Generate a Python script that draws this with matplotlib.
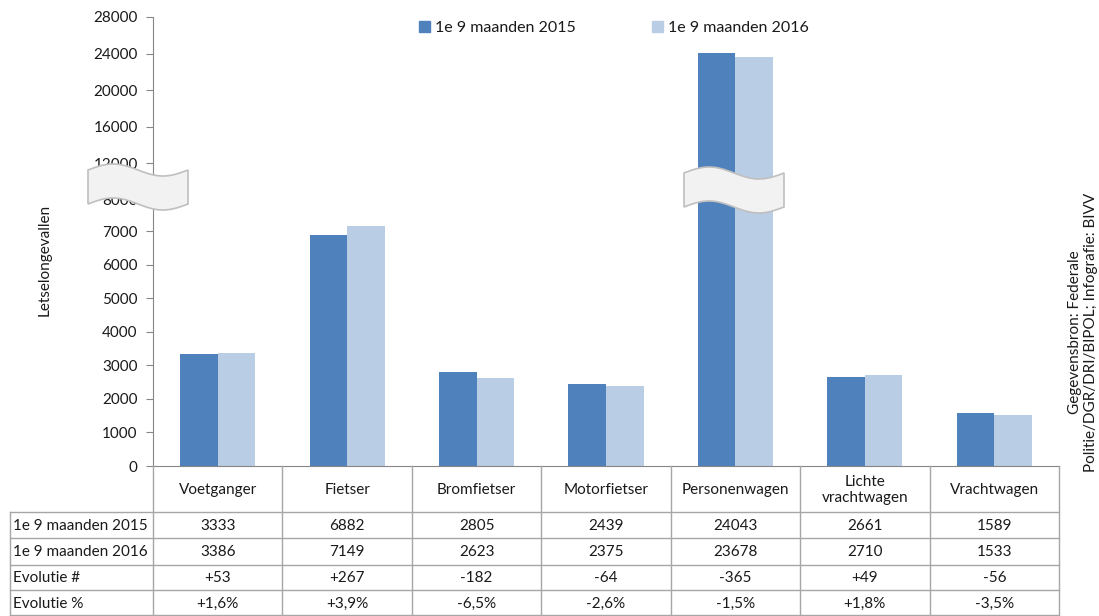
import numpy as np
import matplotlib
matplotlib.use("Agg")
import matplotlib.pyplot as plt
from matplotlib.path import Path
from matplotlib.patches import PathPatch, Patch

plt.rcParams['font.family'] = ['Lato', 'DejaVu Sans']

categories = ["Voetganger", "Fietser", "Bromfietser", "Motorfietser",
              "Personenwagen", "Lichte\nvrachtwagen", "Vrachtwagen"]
series_names = ["1e 9 maanden 2015", "1e 9 maanden 2016"]
v2015 = [3333, 6882, 2805, 2439, 24043, 2661, 1589]
v2016 = [3386, 7149, 2623, 2375, 23678, 2710, 1533]
yticks = [0, 1000, 2000, 3000, 4000, 5000, 6000, 7000, 8000,
          12000, 16000, 20000, 24000, 28000]
row_labels = ["1e 9 maanden 2015", "1e 9 maanden 2016", "Evolutie #", "Evolutie %"]
ylabel = "Letselongevallen"
source = "Gegevensbron: Federale\nPolitie/DGR/DRI/BIPOL; Infografie: BIVV"

c15 = "#4F81BD"
c16 = "#B9CDE5"
gray = "#A6A6A6"
txt = "#1a1a1a"
FS = 11

W, H = 1099, 616
fig = plt.figure(figsize=(W / 100, H / 100), dpi=100)

# piecewise-linear (broken) y scale
BRK = 7918.0
K = 0.273


def fwd(v):
    v = np.asarray(v, dtype=float)
    return np.where(v <= BRK, v, BRK + (v - BRK) * K)


def inv(u):
    u = np.asarray(u, dtype=float)
    return np.where(u <= BRK, u, BRK + (u - BRK) / K)


L, R, B, T = 153, 1059, 466, 17
ax = fig.add_axes([L / W, 1 - B / H, (R - L) / W, (B - T) / H])
ax.set_yscale('function', functions=(fwd, inv))
ax.set_ylim(0, 28000)
ax.set_xlim(-0.5, len(categories) - 0.5)

x = np.arange(len(categories))
bw = 0.29
ax.bar(x - bw / 2, v2015, bw, color=c15, label=series_names[0], zorder=2)
ax.bar(x + bw / 2, v2016, bw, color=c16, label=series_names[1], zorder=2)

ax.set_yticks(yticks)
ax.set_yticklabels([str(t) for t in yticks], fontsize=FS, color=txt)
ax.set_xticks([])
ax.tick_params(axis='y', length=5, color="#868686", pad=6)
for s in ['top', 'right']:
    ax.spines[s].set_visible(False)
for s in ['left', 'bottom']:
    ax.spines[s].set_color("#868686")

fig.text(45 / W, 1 - 260 / H, ylabel, rotation=90, ha='center', va='center',
         fontsize=FS, color=txt)
fig.text(1083 / W, 1 - 332 / H, source, rotation=90, ha='center', va='center',
         fontsize=FS, color=txt, multialignment='center', linespacing=1.2)

leg = fig.legend(handles=[Patch(color=c15), Patch(color=c16)], labels=series_names,
                 loc='center', bbox_to_anchor=(614 / W, 1 - 28 / H), ncol=2,
                 frameon=False, fontsize=11.5, handlelength=0.7, handleheight=0.7,
                 handletextpad=0.3, columnspacing=4.8)
for t in leg.get_texts():
    t.set_color(txt)

# overlay in pixel coordinates for table and break marks
ov = fig.add_axes([0, 0, 1, 1], zorder=5)
ov.set_xlim(0, W)
ov.set_ylim(H, 0)
ov.axis('off')
ov.patch.set_visible(False)

colw = (R - L) / len(categories)
col_edges = [L + i * colw for i in range(len(categories) + 1)]
rows_y = [B, 512, 538, 565, 590, 615]
lab_left = 10

for yy in rows_y[1:]:
    ov.plot([lab_left, R], [yy, yy], color=gray, lw=1)
for i, xe in enumerate(col_edges):
    ov.plot([xe, xe], [B, rows_y[-1]], color=gray, lw=1)
ov.plot([lab_left, lab_left], [rows_y[1], rows_y[-1]], color=gray, lw=1)

evo_n = [b - a for a, b in zip(v2015, v2016)]
evo_p = [100.0 * (b - a) / a for a, b in zip(v2015, v2016)]
rows = [[str(v) for v in v2015],
        [str(v) for v in v2016],
        [f"{n:+d}" for n in evo_n],
        [f"{p:+.1f}%".replace('.', ',') for p in evo_p]]

for i, c in enumerate(categories):
    cx = (col_edges[i] + col_edges[i + 1]) / 2
    ov.text(cx, (rows_y[0] + rows_y[1]) / 2 + 1, c, ha='center', va='center',
            fontsize=FS, color=txt, linespacing=1.1)
    for r in range(4):
        cy = (rows_y[r + 1] + rows_y[r + 2]) / 2 + 1
        ov.text(cx, cy, rows[r][i], ha='center', va='center', fontsize=FS, color=txt)
for r in range(4):
    cy = (rows_y[r + 1] + rows_y[r + 2]) / 2 + 1
    ov.text(lab_left + 3, cy, row_labels[r], ha='left', va='center', fontsize=FS, color=txt)


def banner(x0, y0, w, h, amp):
    t = np.linspace(0, 1, 60)
    xs = x0 + t * w
    top = y0 - amp * np.sin(2 * np.pi * t)
    bot = y0 + h - amp * np.sin(2 * np.pi * t)
    verts = list(zip(xs, top)) + list(zip(xs[::-1], bot[::-1])) + [(xs[0], top[0])]
    codes = [Path.MOVETO] + [Path.LINETO] * (len(verts) - 2) + [Path.CLOSEPOLY]
    ov.add_patch(PathPatch(Path(verts, codes), facecolor="#F2F2F2",
                           edgecolor="#BFBFBF", lw=1.2, zorder=10))


banner(88, 170, 100, 34, 6)
banner(684, 173, 100, 34, 6)

fig.savefig("out.png", dpi=100, facecolor='white')
